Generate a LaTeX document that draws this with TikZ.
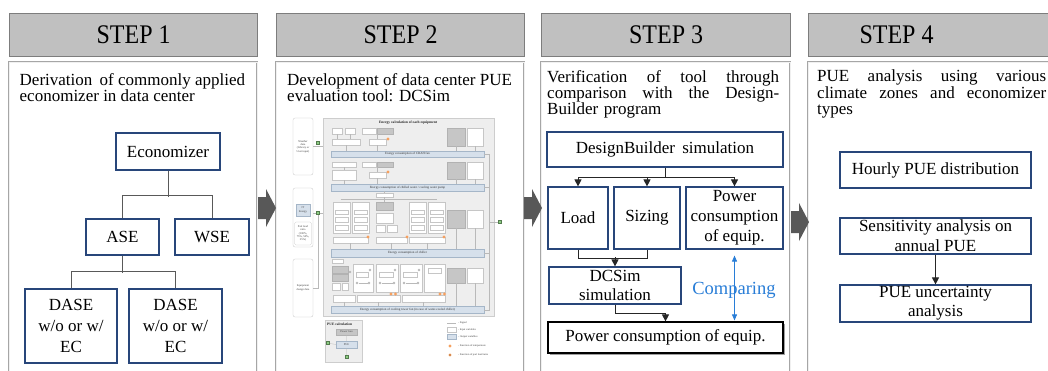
\documentclass[tikz,border=0pt]{standalone}
\usepackage{fontspec}
\setmainfont{Liberation Serif}
\usepackage{graphicx}
\usetikzlibrary{arrows.meta,shadows}

\definecolor{navy}{RGB}{40,70,122}
\definecolor{hdrfill}{RGB}{192,192,192}
\definecolor{hdrline}{RGB}{125,125,125}
\definecolor{bigarrow}{RGB}{88,88,88}
\definecolor{cmpblue}{RGB}{40,125,215}
\definecolor{minibg}{RGB}{238,238,238}
\definecolor{miniline}{RGB}{205,205,205}
\definecolor{minibar}{RGB}{214,224,235}
\definecolor{minibarline}{RGB}{165,182,200}
\definecolor{dotc}{RGB}{246,160,95}
\definecolor{sigc}{RGB}{140,205,130}

\newcommand{\steptitle}[1]{\scalebox{1}[1.12]{#1}}
% gray block arrow between two step panels: left end x, centre y
\newcommand{\blockarrow}[2]{\fill[bigarrow] (#1,#2-11) -- ++(8,0) -- ++(0,-8) -- ++(10,19) -- ++(-10,19) -- ++(0,-8) -- ++(-8,0) -- cycle;}
% small pieces of the DCSim flow chart
\newcommand{\mbx}[4]{\draw[mbox] (#1,#2) rectangle (#3,#4);}
\newcommand{\mdk}[4]{\draw[mdark] (#1,#2) rectangle (#3,#4);}
\newcommand{\mdt}[2]{\fill[dotc] (#1,#2) circle (1.6pt);}
\newcommand{\mcell}[2]{\fill[gray!55] (#1,#2) circle (1.4pt);}
\newcommand{\msq}[2]{\draw[fill=sigc, draw=sigc!60!black, line width=0.3pt] (#1-1.6,#2-1.6) rectangle (#1+1.6,#2+1.6);}

\tikzset{
  hdrbox/.style={draw=hdrline, fill=hdrfill, line width=1.2pt, inner sep=0pt,
    minimum width=248pt, minimum height=43pt, anchor=north west,
    font=\fontsize{24}{28}\selectfont},
  panel/.style={draw=gray!70, double=gray!12, double distance=0.8pt, line width=0.6pt},
  desc/.style={anchor=north west, inner sep=0pt, align=left,
    font=\fontsize{17}{16.4}\selectfont},
  bluebox/.style={draw=navy, line width=1.2pt, fill=white, inner sep=0pt,
    align=center, font=\fontsize{17}{20}\selectfont},
  blackbox/.style={draw=black, line width=1.2pt, fill=white, inner sep=0pt,
    align=center, font=\fontsize{17}{20}\selectfont,
    drop shadow={shadow xshift=1.6pt, shadow yshift=-1.6pt, fill=gray!75, opacity=1}},
  treeline/.style={draw=black!65, line width=0.9pt},
  flowline/.style={draw=black!85, line width=0.9pt},
  flowarrow/.style={flowline, -{Triangle[length=7pt,width=7pt]}},
  cmparrow/.style={draw=cmpblue, line width=0.8pt,
    {Triangle[length=6pt,width=5pt]}-{Triangle[length=6pt,width=5pt]}},
  mpanel/.style={fill=minibg, draw=miniline, line width=0.4pt},
  mbox/.style={fill=white, draw=gray!45, line width=0.3pt},
  mdark/.style={fill=gray!45, draw=gray!60, line width=0.3pt},
  mbar/.style={fill=minibar, draw=minibarline, line width=0.4pt},
  mline/.style={draw=gray!55, line width=0.3pt},
  mtext/.style={inner sep=0pt, text=black!80, font=\fontsize{3.2}{3.8}\selectfont},
  mtitle/.style={inner sep=0pt, text=black!85, font=\bfseries\fontsize{3.6}{4.2}\selectfont},
  mlabel/.style={inner sep=0pt, align=center, text=black!75, font=\fontsize{2.8}{3.3}\selectfont},
  mleg/.style={inner sep=0pt, anchor=west, text=black!75, font=\fontsize{2.7}{3.2}\selectfont},
}

\begin{document}
\begin{tikzpicture}[x=1pt,y=-1pt]
\useasboundingbox (0,0) rectangle (1048,370);
\fill[white] (0,0) rectangle (1048,370);
\begin{scope}
\clip (0,0) rectangle (1048,370);

% ---------- step panels and headers ----------
\draw[panel] (9,62) rectangle (257,400);
\draw[panel] (276,62) rectangle (524,400);
\draw[panel] (541,62) rectangle (790,400);
\draw[panel] (808,62) rectangle (1070,400);

\node[hdrbox] (h1) at (9,13) {\steptitle{STEP 1}};
\node[hdrbox] (h2) at (276,13) {\steptitle{STEP 2}};
\node[hdrbox, minimum width=249pt] (h3) at (541,13) {\steptitle{STEP 3}};
\node[hdrbox, minimum width=262pt] (h4) at (808,13) {};
\node[inner sep=0pt, font=\fontsize{24}{28}\selectfont] (t4) at (896.5,34.5) {\steptitle{STEP 4}};

% ---------- block arrows ----------
\blockarrow{258}{208}
\blockarrow{524}{208}
\blockarrow{791}{222}

% ---------- step 1 ----------
\node[desc] (d1) at (19.5,73) {Derivation\hspace{3pt} of commonly applied\\economizer in data center};

\node[bluebox, minimum width=104pt, minimum height=37pt] (eco) at (168,151.5) {Economizer};
\node[bluebox, minimum width=73pt, minimum height=36pt] (ase) at (122.5,237) {ASE};
\node[bluebox, minimum width=74pt, minimum height=36pt] (wse) at (212,237) {WSE};
\node[bluebox, minimum width=92pt, minimum height=74pt, font=\fontsize{17}{21}\selectfont] (dase1) at (71,326) {DASE\\w/o or w/\\EC};
\node[bluebox, minimum width=93pt, minimum height=74pt, font=\fontsize{17}{21}\selectfont] (dase2) at (175.5,326) {DASE\\w/o or w/\\EC};

\draw[treeline] (eco.south) -- ++(0,26);
\draw[treeline] (ase.north) -- ++(0,-23) -| (wse.north);
\draw[treeline] (ase.south) -- ++(0,17);
\draw[treeline] (dase1.north) -- ++(0,-17) -| (dase2.north);

% ---------- step 2 ----------
\node[desc] (d2) at (287,73) {Development of data center PUE\\evaluation tool: DCSim};

% input column
\draw[mbox, rounded corners=2pt] (293,118) rectangle (313,175);
\node[mlabel] (mw) at (303,146.5) {Weather\\data\\(Library or\\User input)};
\draw[mbox, rounded corners=2pt] (293,188) rectangle (313,247);
\draw[mbar] (296,204) rectangle (310,216);
\node[mlabel] (mit) at (303,210) {IT\\Energy};
\draw[mbox, rounded corners=1.5pt] (294.5,222) rectangle (311.5,245);
\node[mlabel] (mpl) at (303,233.5) {Part load\\ratio\\(100\%,\\75\%, 50\%,\\25\%)};
\draw[mbox, rounded corners=2pt] (293,259) rectangle (313,317);
\node[mlabel] (meq) at (303,288) {Equipment\\design data};
\draw[mline] (313,146) -- (323,146);
\draw[mline] (313,213) -- (323,213);
\draw[mline] (313,288) -- (318,288) -- (318,213);
\msq{318}{143}
\msq{318}{213}

% equipment panel
\draw[mpanel] (323,118) rectangle (494,316);
\node[mtitle] (mt) at (408,122.5) {Energy calculation of each equipment};

% CRAH fan section
\mbx{332}{128}{342}{134} \mbx{345}{128}{355}{134} \mbx{362}{128}{376}{134} \mdk{377}{128}{393}{134}
\mbx{332}{139}{360}{145} \mbx{369}{139}{386}{145} \mdt{388}{139}
\mdk{447}{128}{465}{146} \mbx{467}{128}{483}{146}
\draw[mline] (337,134) -- (337,139) (350,134) -- (350,139) (377,134) -- (377,139);
\draw[mline] (346,145) -- (346,151) (377,145) -- (377,151) (456,146) -- (456,151) (475,146) -- (475,151);
\draw[mbar] (331,151) rectangle (484,157);
\node[mtext] (mb1) at (407.5,154) {Energy consumption of CRAH fan};

% pump section
\mbx{332}{162}{356}{167} \mbx{362}{162}{376}{167} \mdk{377}{162}{393}{167}
\mbx{332}{170}{356}{180} \mbx{369}{172}{386}{178} \mdt{388}{172}
\mdk{447}{162}{465}{179} \mbx{467}{162}{483}{179}
\draw[mline] (344,167) -- (344,170) (377,167) -- (377,172);
\draw[mline] (344,180) -- (344,184) (377,178) -- (377,184) (456,179) -- (456,184) (475,179) -- (475,184);
\draw[mbar] (331,184) rectangle (484,191);
\node[mtext] (mb2) at (407.5,187.5) {Energy consumption of chilled water / cooling water pump};

% chiller section
\mbx{376}{193}{393}{197}
\draw[mline] (384.5,191) -- (384.5,193) (384.5,197) -- (384.5,202);
\draw[mline] (340.5,199.5) -- (437,199.5);
\foreach \cx in {333,352,409,428} {
  \draw[mbox] (\cx,202) rectangle (\cx+17,233);
  \draw[mbox] (\cx+2,210) rectangle (\cx+15,214);
  \draw[mbox] (\cx+2,217) rectangle (\cx+15,222);
  \draw[mbox] (\cx+2,225) rectangle (\cx+15,230);
}
\mdk{376}{202}{393}{210} \mbx{376}{213}{393}{223} \mbx{376}{225}{385}{232} \mbx{387}{225}{397}{232}
\mdk{447}{210}{465}{228} \mbx{467}{210}{483}{228}
\mbx{333}{237}{368}{243} \mbx{376}{237}{407}{243} \mbx{409}{237}{445}{243}
\mdt{368}{237} \mdt{407}{237} \mdt{444}{237}
\draw[mline] (350,243) -- (350,249) (391,243) -- (391,249) (427,243) -- (427,249) (456,228) -- (456,249) (475,228) -- (475,249);
\draw[mbar] (331,249) rectangle (484,257);
\node[mtext] (mb3) at (407.5,253) {Energy consumption of chiller};

% cooling tower section
\mbx{332}{259}{343}{263}
\mdk{332}{266}{348}{273} \mdk{332}{274}{348}{281}
\mbx{332}{283}{340}{290} \mbx{342}{283}{348}{290}
\mcell{350}{272}
\foreach \cx/\cw in {353/20,376/22,400/22} {
  \draw[mbox] (\cx,264) rectangle (\cx+\cw,292);
  \draw[mbox] (\cx+3,272) rectangle (\cx+\cw-5,277);
  \mcell{\cx+\cw-3}{270}
  \mcell{\cx+4}{283}
  \mcell{\cx+\cw-4}{283}
  \draw[mline] (\cx+5.5,283) -- (\cx+\cw-5.5,283);
}
\draw[mbox] (424,264) rectangle (445,292);
\mbx{428}{268}{441}{273}
\mdk{447}{268}{465}{283} \mbx{467}{268}{483}{283}
\mbx{333}{295}{355}{302} \mbx{357}{295}{400}{302} \mbx{402}{295}{445}{302}
\mdt{391}{294} \mdt{395.5}{294} \mdt{440}{294} \mdt{444.5}{294}
\draw[mline] (344,302) -- (344,306) (378,302) -- (378,306) (423,302) -- (423,306) (456,283) -- (456,306) (475,283) -- (475,306);
\draw[mbar] (331,306) rectangle (484,313);
\node[mtext] (mb4) at (407.5,309.5) {Energy consumption of cooling tower fan (in case of water-cooled chiller)};

% output collector on the right
\draw[mline] (484,154) -- (489,154) -- (489,310) -- (484,310);
\draw[mline] (484,187.5) -- (489,187.5) (484,253) -- (489,253) (489,222) -- (498,222);
\msq{500}{222}

% PUE calculation
\draw[mpanel] (325,320) rectangle (362,362);
\node[mtitle, anchor=west] (mpc) at (327,324.5) {PUE calculation};
\mdk{336}{329}{357}{335}
\node[mlabel] (mloss) at (346.5,332) {Power loss};
\draw[mbar] (336,341) rectangle (357,348);
\node[mlabel] (mpue) at (346.5,344.5) {PUE};
\draw[mline] (330,343.5) -- (336,344.5) (346.5,335) -- (346.5,341) (346.5,348) -- (346.5,355);
\msq{328}{343}
\msq{347}{357}

% legend
\draw[mline] (447,323) -- (456,323);
\node[mleg] (l1) at (458,323) {- Signal};
\draw[mbox] (447,327) rectangle (456,332);
\node[mleg] (l2) at (458,329.5) {- Input variables};
\draw[mbar] (447,334) rectangle (456,339);
\node[mleg] (l3) at (458,336.5) {- Output variables};
\mdt{450}{346}
\node[mleg] (l4) at (458,346) {- Function of temperature};
\mdt{450}{355}
\fill[dotc!45!black] (450,355) circle (0.6pt);
\node[mleg] (l5) at (458,355) {- Function of part load ratio};

% ---------- step 3 ----------
\node[desc, text width=232pt] (d3) at (547,70) {Verification\hfill of\hfill tool\hfill through\\comparison\hfill with\hfill the\hfill Design-\\Builder program};

\node[bluebox, minimum width=236pt, minimum height=35pt] (db) at (665,149.5) {DesignBuilder\hspace{3pt} simulation};
\node[bluebox, minimum width=60pt, minimum height=62pt] (load) at (578,218) {Load};
\node[bluebox, minimum width=66pt, minimum height=62pt] (sizing) at (647,218) {Sizing};
\node[bluebox, minimum width=97pt, minimum height=62pt] (power) at (734.5,218) {Power\\consumption\\of equip.};
\node[bluebox, minimum width=132pt, minimum height=37pt, font=\fontsize{17}{19}\selectfont] (dcsim) at (615,285.5) {DCSim\\simulation};
\node[blackbox, minimum width=235pt, minimum height=31pt] (final) at (665.5,337.5) {Power consumption of equip.};

\draw[flowline] (db.south) -- ++(0,10) coordinate (j1);
\draw[flowarrow] (j1) -| (load.north);
\draw[flowarrow] (j1) -| (sizing.north);
\draw[flowarrow] (j1) -| (power.north);
\draw[flowline] (load.south) -- ++(0,9) -| (sizing.south);
\draw[flowarrow] ([yshift=9pt]dcsim.north) -- (dcsim.north);
\draw[flowarrow] (dcsim.south) -- ++(0,9) -| (final.north);
\draw[cmparrow] ([yshift=-6pt]power.south) -- ([yshift=1pt]final.north -| power.south);
\node[inner sep=0pt, text=cmpblue, font=\fontsize{18.5}{22}\selectfont] (cmp) at (734,290) {Comparing};

% ---------- step 4 ----------
\node[desc, text width=229pt] (d4) at (817,70) {PUE\hfill analysis\hfill using\hfill various\\climate\hfill zones\hfill and\hfill economizer\\types};

\node[bluebox, minimum width=191pt, minimum height=36pt] (hourly) at (935.5,170) {Hourly PUE distribution};
\node[bluebox, minimum width=191pt, minimum height=36pt] (sens) at (935.5,236) {Sensitivity analysis on\\annual PUE};
\node[bluebox, minimum width=191pt, minimum height=37pt, font=\fontsize{17}{19}\selectfont] (unc) at (935.5,303.5) {PUE uncertainty\\analysis};
\draw[flowarrow] (sens.south) -- (unc.north);

\end{scope}
\end{tikzpicture}
\end{document}
